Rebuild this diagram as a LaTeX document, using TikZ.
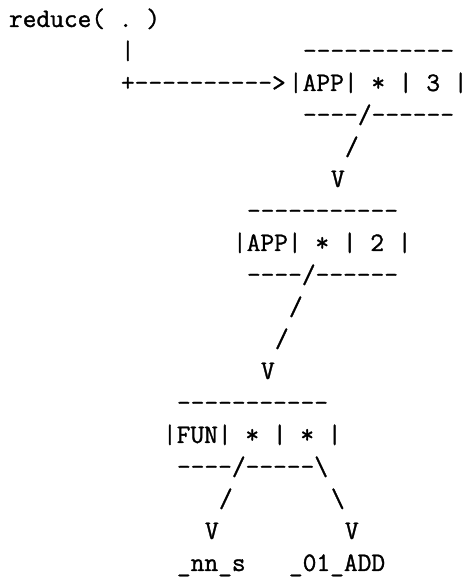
\documentclass[tikz,border=0pt]{standalone}
\usepackage{fontspec}
\setmonofont{Latin Modern Mono}[FakeBold=1.2]

\begin{document}
\begin{tikzpicture}[x=7pt, y=-16pt,
  art/.style={anchor=base west, inner sep=0pt, outer sep=0pt,
    font=\fontsize{13.333}{16}\selectfont\ttfamily}]

% one unit = one character cell / one text line
\useasboundingbox (-0.643,-0.844) rectangle (32.643,17.188);

% the call and the pointer into the graph
\node [art] (call) at (0,0) {reduce( . )};
\node [art] (stem) at (8,1) {|};
\node [art] (ptr) at (8,2) {+---------->};

% first application cell
\node [art] (apptop) at (21,1) {-----------};
\node [art] (app) at (20,2) {|APP| * | 3 |};
\node [art] (appbot) at (21,3) {----/------};
\node [art] (applnk) at (24,4) {/};
\node [art] (apptip) at (23,5) {V};

% second application cell
\node [art] (argtop) at (17,6) {-----------};
\node [art] (arg) at (16,7) {|APP| * | 2 |};
\node [art] (argbot) at (17,8) {----/------};
\node [art] (arglnka) at (20,9) {/};
\node [art] (arglnkb) at (19,10) {/};
\node [art] (argtip) at (18,11) {V};

% function cell
\node [art] (funtop) at (12,12) {-----------};
\node [art] (fun) at (11,13) {|FUN| * | * |};
\node [art] (funbot) at (12,14) {----/-----\textbackslash};
\node [art] (funlnkl) at (15,15) {/};
\node [art] (funlnkr) at (23,15) {\textbackslash};
\node [art] (funtipl) at (14,16) {V};
\node [art] (funtipr) at (24,16) {V};

% leaves
\node [art] (leafl) at (12,17) {\_nn\_s};
\node [art] (leafr) at (20,17) {\_01\_ADD};

\end{tikzpicture}
\end{document}
